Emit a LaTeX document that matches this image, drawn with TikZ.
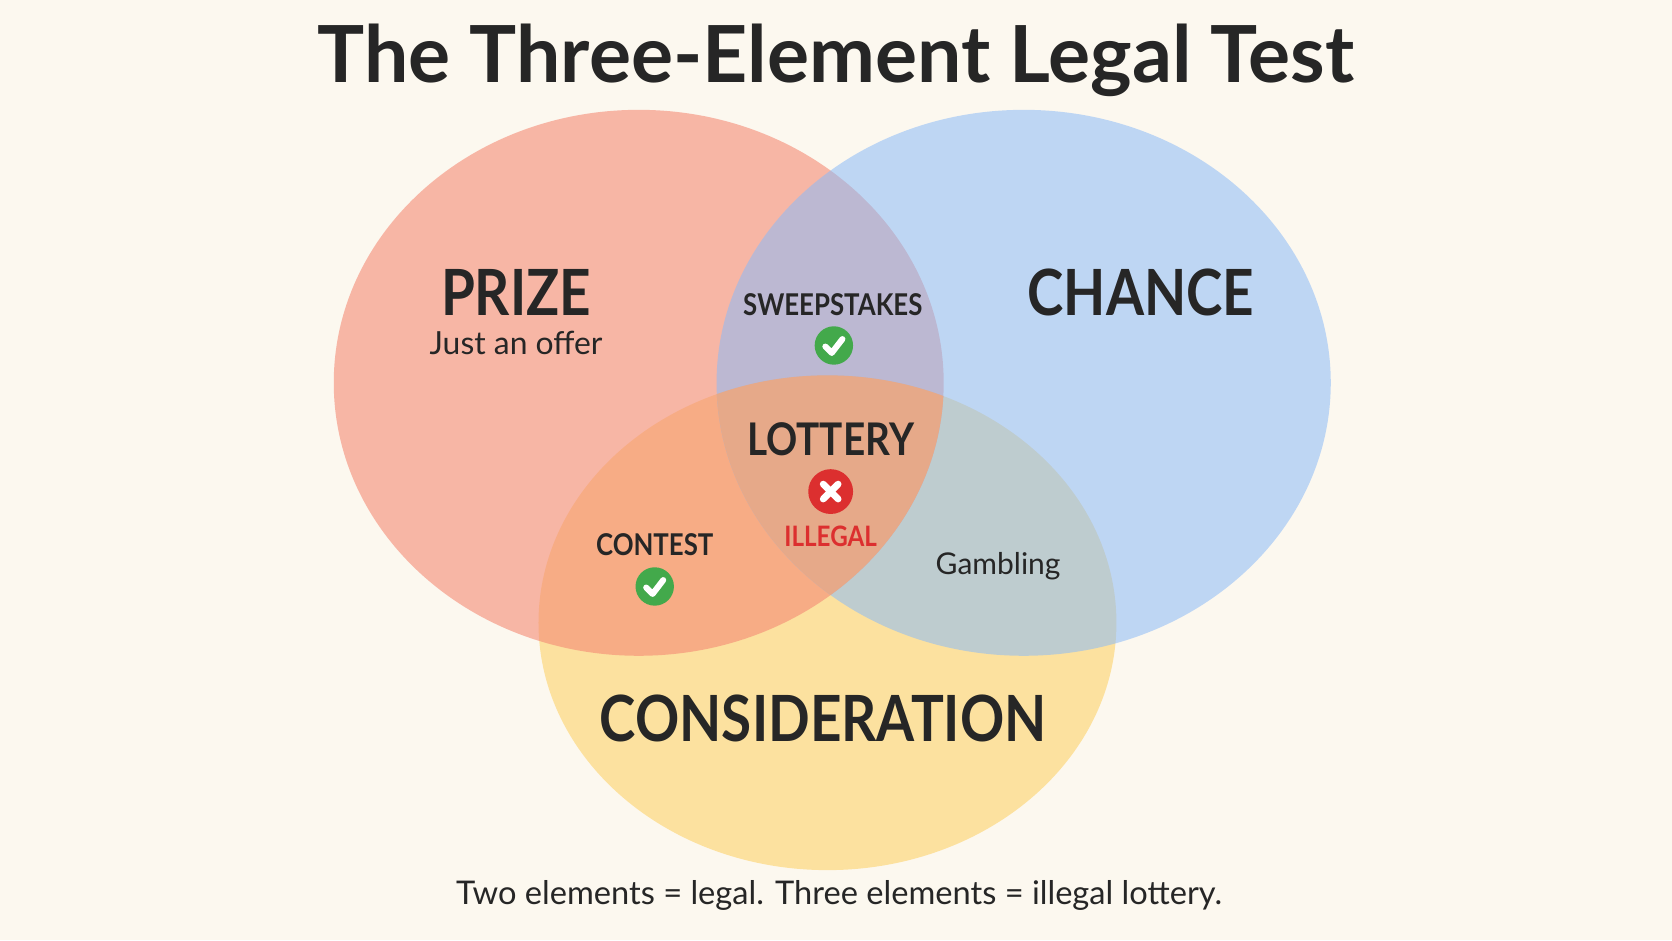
\documentclass[tikz,border=0pt]{standalone}
\usepackage{fontspec}
\setmainfont{Lato}
\newfontfamily\cond[FakeStretch=0.86]{Lato}
\definecolor{bg}{HTML}{FCF8EF}
\definecolor{cred}{HTML}{F58A75}
\definecolor{cblue}{HTML}{8CBBF8}
\definecolor{cyel}{HTML}{FCD36A}
\definecolor{lott}{HTML}{E6A989}
\definecolor{okg}{HTML}{43A94B}
\definecolor{bad}{HTML}{DC2F2F}
\definecolor{ink}{HTML}{262626}
\begin{document}
\begin{tikzpicture}[x=0.01cm,y=-0.01cm,
  big/.style={font=\cond\fontsize{17}{19}\selectfont\bfseries, text=ink},
  small/.style={font=\cond\fontsize{8}{10}\selectfont\bfseries, text=ink},
  note/.style={font=\fontsize{8}{10}\selectfont, text=ink},
  okicon/.style={circle, fill=okg, minimum size=0.36cm, inner sep=0},
  badicon/.style={circle, fill=bad, minimum size=0.42cm, inner sep=0}]
\fill[bg] (0,0) rectangle (1568,882);
\useasboundingbox (0,0) rectangle (1568,882);
\fill[cyel, fill opacity=0.6] (776,584) ellipse [x radius=271, y radius=232];
\fill[cred, fill opacity=0.6] (599,359) ellipse [x radius=286, y radius=256];
\fill[cblue, fill opacity=0.55] (960,359) ellipse [x radius=288, y radius=256];
\begin{scope}
\clip (776,584) ellipse [x radius=271, y radius=232];
\clip (599,359) ellipse [x radius=286, y radius=256];
\fill[lott] (960,359) ellipse [x radius=288, y radius=256];
\end{scope}
\node[font=\fontsize{21}{24}\selectfont\bfseries, text=ink] (title) at (784,57) {The Three-Element Legal Test};
\node[big] (prize) at (484,274) {PRIZE};
\node[note, font=\fontsize{8.5}{10}\selectfont] (offer) at (484,322) {Just an offer};
\node[big] (chance) at (1070,274) {CHANCE};
\node[big] (cons) at (772,674) {CONSIDERATION};
\node[small] (sw) at (781,286) {SWEEPSTAKES};
\node[okicon] (swok) at (782,324) {};
\draw[white, line width=1.6pt, line cap=round, line join=round] ([shift={(-8,1)}]swok.center) -- ([shift={(-2,7)}]swok.center) -- ([shift={(8,-6)}]swok.center);
\node[font=\cond\fontsize{12}{14}\selectfont\bfseries, text=ink] (lot) at (779,412) {LOTTERY};
\node[badicon] (x) at (779,461) {};
\draw[white, line width=1.8pt, line cap=round] ([shift={(-7,-7)}]x.center) -- ([shift={(7,7)}]x.center);
\draw[white, line width=1.8pt, line cap=round] ([shift={(-7,7)}]x.center) -- ([shift={(7,-7)}]x.center);
\node[font=\cond\fontsize{7.5}{9}\selectfont\bfseries, text=bad] (ill) at (779,503) {ILLEGAL};
\node[small] (contest) at (614,511) {CONTEST};
\node[okicon] (cok) at (614,550) {};
\draw[white, line width=1.6pt, line cap=round, line join=round] ([shift={(-8,1)}]cok.center) -- ([shift={(-2,7)}]cok.center) -- ([shift={(8,-6)}]cok.center);
\node[note] (gamb) at (936,531) {Gambling};
\node[note, font=\fontsize{8.7}{11}\selectfont] (foot) at (787,840) {Two elements = legal. Three elements = illegal lottery.};
\end{tikzpicture}
\end{document}
